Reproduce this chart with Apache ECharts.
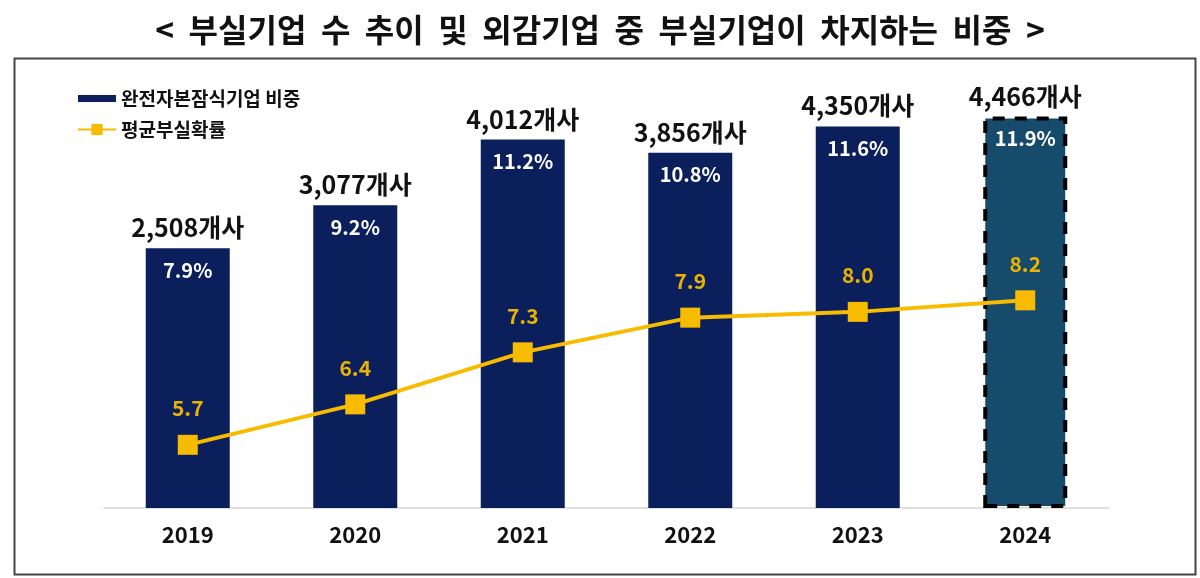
<!DOCTYPE html>
<html>
<head>
<meta charset="utf-8">
<script src="https://cdn.jsdelivr.net/npm/echarts@6/dist/echarts.min.js"></script>
<style>
  html, body { margin: 0; padding: 0; background: #fff; }
  #main { width: 1200px; height: 578px; }
</style>
</head>
<body>
<div id="main"></div>
<script>
var years = ['2019', '2020', '2021', '2022', '2023', '2024'];
var shareValues = [7.9, 9.2, 11.2, 10.8, 11.6, 11.9];      // 완전자본잠식기업 비중 (%)
var firmCounts = ['2,508', '3,077', '4,012', '3,856', '4,350', '4,466'];
var probValues = [5.7, 6.4, 7.3, 7.9, 8.0, 8.2];            // 평균부실확률

var numFont = "'Liberation Sans Narrow', 'Noto Sans CJK KR', sans-serif";
var krFont = "'Noto Sans CJK KR', sans-serif";

var chart = echarts.init(document.getElementById('main'));

var barData = shareValues.map(function (v, i) {
    if (i === years.length - 1) {
        return {
            value: v,
            itemStyle: {
                color: '#164b6b',
                borderColor: '#000',
                borderWidth: 4,
                borderType: [12, 10]
            }
        };
    }
    return v;
});

var option = {
    backgroundColor: '#fff',
    title: {
        text: '<  부실기업  수  추이  및  외감기업  중  부실기업이  차지하는  비중  >',
        left: 'center',
        top: 9,
        textStyle: { fontFamily: krFont, fontSize: 32, fontWeight: 'bold', color: '#111' }
    },
    graphic: [{
        type: 'rect',
        left: 12, top: 56,
        shape: { width: 1181, height: 516 },
        style: { fill: 'none', stroke: '#444', lineWidth: 2 },
        silent: true
    }],
    legend: {
        orient: 'vertical',
        left: 72,
        top: 84,
        itemWidth: 38,
        itemHeight: 14,
        itemGap: 12,
        textStyle: { fontFamily: krFont, fontSize: 19, fontWeight: 'bold', color: '#111' },
        data: [
            { name: '완전자본잠식기업 비중', icon: 'path://M0,0H38V7H0Z' },
            { name: '평균부실확률' }
        ]
    },
    grid: { left: 104, right: 91, top: 108, bottom: 70 },
    xAxis: {
        type: 'category',
        data: years,
        axisTick: { show: false },
        axisLine: { lineStyle: { color: '#d6d6d6', width: 1.5 } },
        axisLabel: { fontFamily: numFont, fontSize: 22, fontWeight: 'bold', color: '#111', margin: 16 }
    },
    yAxis: [
        { type: 'value', min: 0, max: 12.16, show: false, splitLine: { show: false } },
        { type: 'value', min: 4.607, max: 11.527, show: false, splitLine: { show: false } }
    ],
    series: [
        {
            name: '완전자본잠식기업 비중',
            type: 'bar',
            barWidth: 84,
            itemStyle: { color: '#0b1f5c' },
            label: {
                show: true,
                position: 'insideTop',
                distance: 12,
                formatter: '{c}%',
                fontFamily: numFont,
                fontSize: 20,
                fontWeight: 'bold',
                color: '#fff'
            },
            data: barData,
            z: 2
        },
        {
            name: 'count',
            type: 'bar',
            barWidth: 84,
            barGap: '-100%',
            silent: true,
            itemStyle: { color: 'rgba(0,0,0,0)' },
            label: {
                show: true,
                position: 'top',
                distance: 8,
                formatter: function (p) { return firmCounts[p.dataIndex] + '개사'; },
                fontFamily: numFont,
                fontSize: 25,
                fontWeight: 'bold',
                color: '#111'
            },
            data: shareValues,
            z: 1
        },
        {
            name: '평균부실확률',
            type: 'line',
            yAxisIndex: 1,
            symbol: 'rect',
            symbolSize: 20,
            lineStyle: { color: '#f7bb00', width: 4 },
            itemStyle: { color: '#f7bb00' },
            label: {
                show: true,
                position: 'top',
                distance: 16,
                formatter: function (p) { return p.value.toFixed(1); },
                fontFamily: numFont,
                fontSize: 21,
                fontWeight: 'bold',
                color: '#eab300'
            },
            data: probValues,
            z: 5
        }
    ]
};

chart.setOption(option);
</script>
</body>
</html>
